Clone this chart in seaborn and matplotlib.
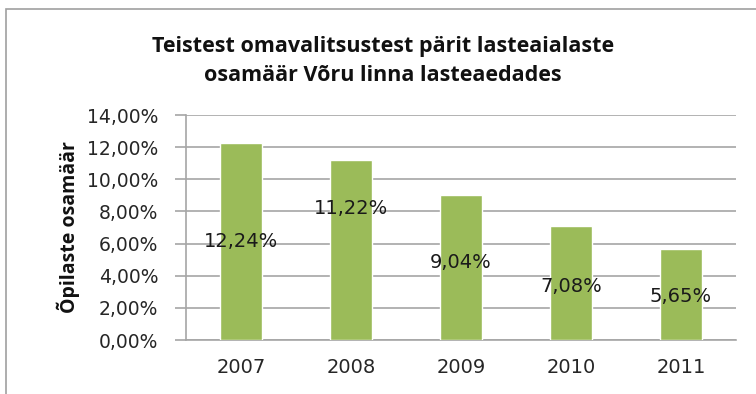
import matplotlib
matplotlib.use("Agg")
import matplotlib.pyplot as plt
import matplotlib.ticker as mticker
from matplotlib.patches import Rectangle
import seaborn as sns
import pandas as pd

years = ["2007", "2008", "2009", "2010", "2011"]
shares = [12.24, 11.22, 9.04, 7.08, 5.65]
# vertical placement of each value label (in % units)
label_heights = [6.12, 8.2, 4.85, 3.3, 2.7]

title = "Teistest omavalitsustest pärit lasteaialaste\nosamäär Võru linna lasteaedades"
ylabel = "Õpilaste osamäär"

df = pd.DataFrame({"year": years, "share": shares})

sns.set_style("white")
plt.rcParams["font.family"] = ["DejaVu Sans"]

fig = plt.figure(figsize=(7.56, 3.94), dpi=100)
ax = fig.add_axes([186 / 756, 1 - 340 / 394, 550 / 756, 225 / 394])

sns.barplot(data=df, x="year", y="share", color="#9BBB59", width=0.39,
            saturation=1, ax=ax, zorder=3)

ax.set_ylim(0, 14)
ax.set_xlim(-0.5, len(years) - 0.5)
ax.yaxis.set_major_locator(mticker.MultipleLocator(2))
ax.yaxis.set_major_formatter(
    mticker.FuncFormatter(lambda v, p: f"{v:.2f}".replace(".", ",") + "%"))
ax.grid(axis="y", color="#A6A6A6", linewidth=1.2, zorder=0)
ax.set_axisbelow(True)

for side in ["top", "right"]:
    ax.spines[side].set_visible(False)
for side in ["left", "bottom"]:
    ax.spines[side].set_color("#A6A6A6")
    ax.spines[side].set_linewidth(1.2)

ax.set_xticks([i - 0.5 for i in range(len(years) + 1)], minor=True)
ax.tick_params(axis="x", which="major", length=0, pad=13, labelsize=14,
               labelcolor="#262626")
ax.tick_params(axis="x", which="minor", length=7, width=1.2, color="#A6A6A6",
               direction="out")
ax.tick_params(axis="y", length=8, width=1.2, color="#A6A6A6", direction="out",
               labelsize=13.5, labelcolor="#262626", pad=12, left=True)

ax.set_xlabel("")
ax.set_ylabel(ylabel, fontsize=14, fontweight="bold", family="Open Sans",
              labelpad=5, color="#111111")

for i, (v, h) in enumerate(zip(shares, label_heights)):
    ax.text(i, h, f"{v:.2f}".replace(".", ",") + "%", ha="center",
            va="center", fontsize=14, color="#1a1a1a", zorder=5)

fig.text(383 / 756, 1 - 61 / 394, title, ha="center", va="center",
         fontsize=15.5, fontweight="bold", family="Open Sans",
         linespacing=1.45, color="#111111")

# outer chart frame
fig.patches.append(Rectangle((6 / 756, -0.05), 1.1, 1 - 9 / 394 + 0.05,
                             transform=fig.transFigure, fill=False,
                             edgecolor="#A0A0A0", linewidth=1.2))

fig.savefig("out.png", dpi=100)
